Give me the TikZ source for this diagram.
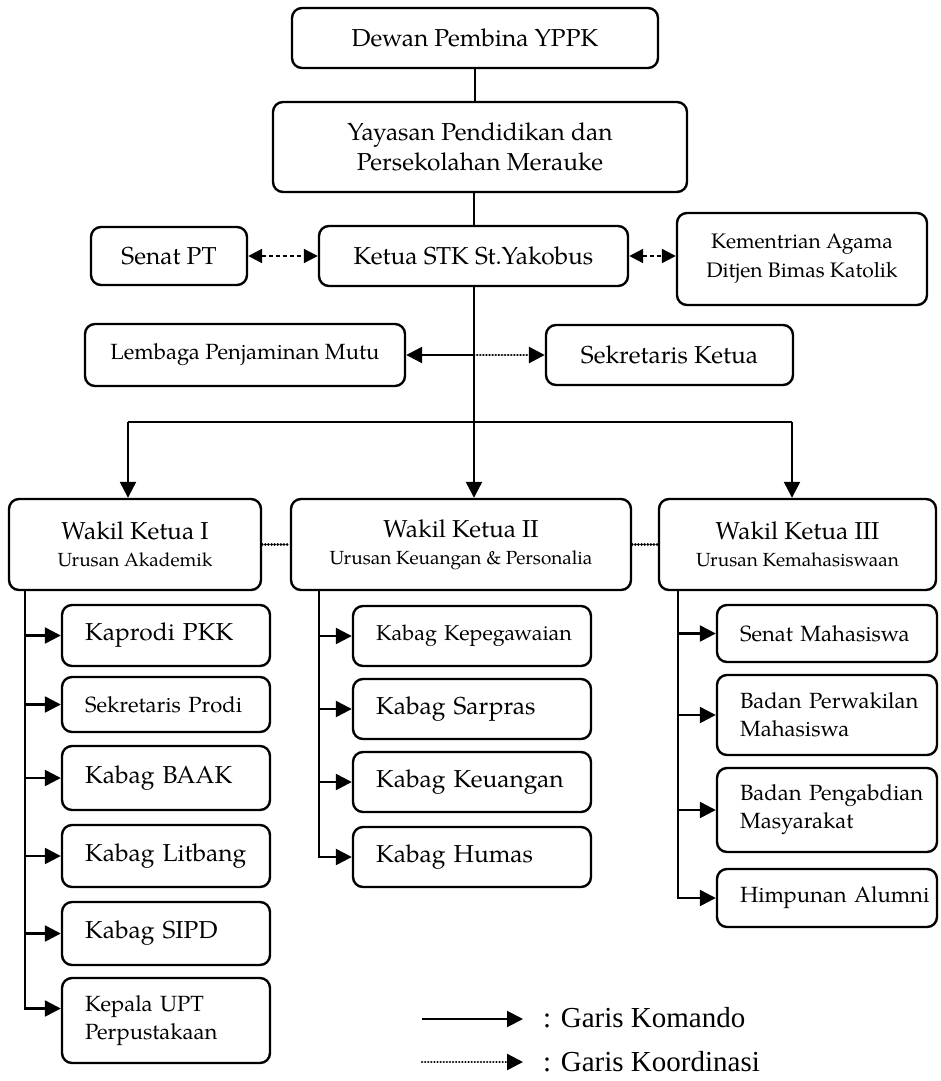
\documentclass[tikz,border=0pt]{standalone}
\usepackage{fontspec}
\setmainfont{TeX Gyre Pagella}
\newfontfamily\legfont{Liberation Serif}
\usetikzlibrary{arrows.meta}
\newcommand\fsBig{\fontsize{24.5}{30}\selectfont}
\newcommand\fsMid{\fontsize{22}{28}\selectfont}
\newcommand\fsKem{\fontsize{21}{29}\selectfont}
\newcommand\fsSm{\fontsize{19}{27}\selectfont}
\newcommand\fsKep{\fontsize{21.5}{26}\selectfont}
\newcommand\fsLeg{\legfont\fontsize{29}{34}\selectfont}
\begin{document}
\begin{tikzpicture}[x=1pt,y=-1pt,
  box/.style={draw, line width=2.4pt, rounded corners=10pt, inner sep=0pt, align=center},
  kid/.style={draw, line width=2.4pt, rounded corners=10pt, inner xsep=6pt, inner ysep=0pt,
    text width=#1, align=left, execute at begin node={\leftskip=17pt}},
  ln/.style={line width=2.4pt},
  cmd/.style={line width=2.4pt, -{Triangle[length=16pt,width=16pt]}},
  co/.style={line width=2.8pt, line cap=round, dash pattern=on 0.1pt off 3pt, -{Triangle[length=16pt,width=16pt]}},
  dd/.style={line width=2.2pt, dash pattern=on 4.5pt off 2.5pt, {Triangle[length=14pt,width=14pt]}-{Triangle[length=14pt,width=14pt]}},
  dotl/.style={line width=2.8pt, line cap=round, dash pattern=on 0.1pt off 3pt}]
\fill[white] (0,0) rectangle (940,1081);
\useasboundingbox (0,0) rectangle (940,1081);

% top
\node[box, minimum width=366, minimum height=60, font=\fsBig] (dewan) at (475,38) {Dewan Pembina YPPK};
\node[box, minimum width=414, minimum height=90, font=\fsBig] (yay) at (480,147) {Yayasan Pendidikan dan\\Persekolahan Merauke};
\node[box, minimum width=156, minimum height=58, font=\fsBig] (senat) at (169,256) {Senat PT};
\node[box, minimum width=309, minimum height=60, font=\fsBig] (ketua) at (473.5,256) {Ketua STK St.Yakobus};
\node[box, minimum width=250, minimum height=92, font=\fsKem] (kem) at (802,259) {Kementrian Agama\\Ditjen Bimas Katolik};
\node[box, minimum width=320, minimum height=62, font=\fsMid] (lpm) at (245,355) {Lembaga Penjaminan Mutu};
\node[box, minimum width=247, minimum height=60, font=\fsBig] (sek) at (669.5,355) {Sekretaris Ketua};

% wakil
\node[box, minimum width=252, minimum height=91, font=\fsSm] (wk1) at (135,544.5) {{\fsBig Wakil Ketua I}\\Urusan Akademik};
\node[box, minimum width=340, minimum height=91, font=\fsSm] (wk2) at (461,544.5) {{\fsBig Wakil Ketua II}\\Urusan Keuangan \& Personalia};
\node[box, minimum width=277, minimum height=91, font=\fsSm] (wk3) at (797.5,544.5) {{\fsBig Wakil Ketua III}\\Urusan Kemahasiswaan};

% left children
\node[kid=196pt, minimum height=61, font=\fsBig] (l1) at (166,635.5) {Kaprodi PKK};
\node[kid=196pt, minimum height=55, font=\fsMid] (l2) at (166,704.5) {Sekretaris Prodi};
\node[kid=196pt, minimum height=64, font=\fsBig] (l3) at (166,778) {Kabag BAAK};
\node[kid=196pt, minimum height=62, font=\fsBig] (l4) at (166,856) {Kabag Litbang};
\node[kid=196pt, minimum height=63, font=\fsBig] (l5) at (166,933.5) {Kabag SIPD};
\node[kid=196pt, minimum height=85, font=\fsMid] (l6) at (166,1020.5) {Kepala UPT\\Perpustakaan};

% middle children
\node[kid=226pt, minimum height=60, font=\fsKep] (m1) at (472,636) {Kabag Kepegawaian};
\node[kid=226pt, minimum height=60, font=\fsBig] (m2) at (472,709) {Kabag Sarpras};
\node[kid=226pt, minimum height=60, font=\fsBig] (m3) at (472,782) {Kabag Keuangan};
\node[kid=226pt, minimum height=60, font=\fsBig] (m4) at (472,857) {Kabag Humas};

% right children
\node[kid=208pt, minimum height=57, font=\fsMid] (r1) at (827,633.5) {Senat Mahasiswa};
\node[kid=208pt, minimum height=80, font=\fsMid] (r2) at (827,715) {Badan Perwakilan\\Mahasiswa};
\node[kid=208pt, minimum height=84, font=\fsMid] (r3) at (827,810) {Badan Pengabdian\\Masyarakat};
\node[kid=208pt, minimum height=58, font=\fsMid] (r4) at (827,898) {Himpunan Alumni};

% main axis
\coordinate (ax) at (474,0);
\draw[ln] (dewan.south) -- (dewan.south |- yay.north);
\draw[ln] (ax |- yay.south) -- (ax |- ketua.north);
\draw[cmd] (ax |- ketua.south) -- (ax |- wk2.north);
\draw[cmd] (ax |- lpm.east) -- (lpm.east);
\draw[co] (ax |- sek.west) -- (sek.west);
\draw[dd] (senat.east) -- (senat.east -| ketua.west);
\draw[dd] (ketua.east) -- (ketua.east -| kem.west);

% branches
\coordinate (bl) at (128,422);
\coordinate (bR) at (792,422);
\draw[ln] (bl) -- (bR);
\draw[cmd] (bl) -- (bl |- wk1.north);
\draw[cmd] (bR) -- (bR |- wk3.north);
\draw[dotl] (wk1.east) -- (wk2.west);
\draw[dotl] (wk2.east) -- (wk3.west);

% trunks
\coordinate (tl) at (25,0);
\coordinate (tm) at (319,0);
\coordinate (tr) at (678,0);
\draw[cmd] (tl |- wk1.south) |- ([yshift=12pt]l6.west);
\foreach \n in {l1,l2,l3,l4,l5} \draw[cmd] (tl |- \n.west) -- (\n.west);
\draw[cmd] (tm |- wk2.south) |- (m4.west);
\foreach \n in {m1,m2,m3} \draw[cmd] (tm |- \n.west) -- (\n.west);
\draw[cmd] (tr |- wk3.south) |- (r4.west);
\foreach \n in {r1,r2,r3} \draw[cmd] (tr |- \n.west) -- (\n.west);

% legend
\coordinate (k1) at (422,1019);
\coordinate (k2) at (523,1019);
\coordinate (c1) at (422,1062);
\coordinate (c2) at (523,1062);
\draw[cmd, line width=2pt] (k1) -- (k2);
\draw[co, line width=2.4pt] (c1) -- (c2);
\node[anchor=base west, inner sep=0pt, font=\fsLeg] (kt) at (543,1027) {: Garis Komando};
\node[anchor=base west, inner sep=0pt, font=\fsLeg] (ct) at (543,1071) {: Garis Koordinasi};
\end{tikzpicture}
\end{document}
